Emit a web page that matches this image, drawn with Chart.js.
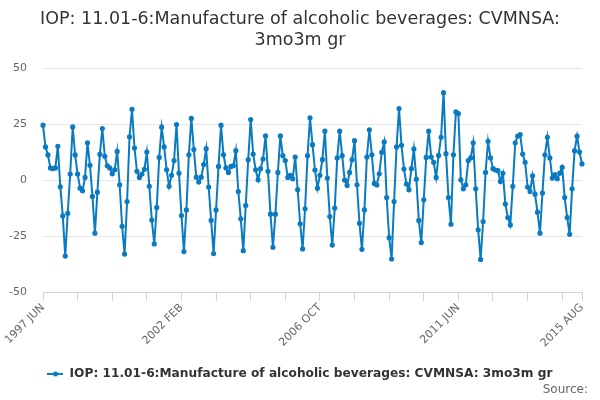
<!DOCTYPE html>
<html>
<head>
<meta charset="utf-8">
<script src="https://cdn.jsdelivr.net/npm/chart.js@4"></script>
<style>
  body { margin: 0; background: #fff; }
  #wrap { width: 600px; height: 400px; }
</style>
</head>
<body>
<div id="wrap"><canvas id="ioChart" width="600" height="400"></canvas></div>
<script>
// series start month and values (monthly, 3mo on 3m growth, %)
const startYear = 1997;
const startMonth = 5; // JUN
const monthNames = ['JAN', 'FEB', 'MAR', 'APR', 'MAY', 'JUN', 'JUL', 'AUG', 'SEP', 'OCT', 'NOV', 'DEC'];
const tickLabels = ['1997 JUN', '2002 FEB', '2006 OCT', '2011 JUN', '2015 AUG'];
const yTicks = [-50, -25, 0, 25, 50];

const growth = [
  24.5, 14.8, 11.2, 5.4, 5.1, 5.4, 15.1, -3, -16, -33.9,
  -14.8, 2.7, 23.7, 11.2, 2.7, -3.6, -4.8, 1.2, 16.6, 6.6,
  -7.3, -23.7, -5.4, 11.5, 23, 10.6, 6.4, 5.4, 2.8, 4.6,
  12.8, -2.1, -20.6, -33, -9.6, 19.3, 31.6, 14.3, 3.9, 1.2,
  2.7, 4.8, 12.5, -2.8, -17.8, -28.5, -12.2, 10.1, 23.6, 14.8,
  4.6, -2.8, 2.1, 8.7, 24.8, 3.1, -15.8, -31.9, -13.3, 11.3,
  27.5, 13.6, 1.3, -0.9, 1.3, 6.9, 14, -3.1, -18, -32.8,
  -13.3, 6.1, 24.5, 11.3, 5.4, 3.4, 6.1, 6.4, 13.1, -5.1,
  -17.3, -31.5, -11.3, 9.1, 27, 11.6, 4.6, 0.1, 5.1, 9.4,
  19.7, 3.9, -15.2, -30, -15.2, 3.4, 19.7, 10.9, 8.7, 1.2,
  2.1, 0.6, 10.3, -4.3, -19.5, -30.7, -12.8, 10.9, 27.8, 15.8,
  4.5, -3.6, 2.1, 9.1, 21.8, 0.9, -16.3, -29, -12.5, 9.9,
  21.8, 10.9, 0, -2.4, 3.4, 9.1, 17.6, -2.1, -19.3, -30.9,
  -13.3, 10.3, 22.4, 11.3, -1.5, -2.2, 2.8, 12.4, 17, -7.8,
  -25.7, -35.2, -9.6, 14.8, 31.9, 15.5, 4.9, -1.8, -4.3, 5.1,
  13.9, 0.4, -18, -27.9, -8.8, 10.1, 21.8, 10.3, 7.9, 1.2,
  11, 19.1, 39, 11.8, -7.8, -19.7, 11.3, 30.4, 29.7, 0.1,
  -3.9, -2.1, 8.7, 9.9, 16.6, -3.9, -22.2, -35.4, -18.5, 3.4,
  17.3, 9.9, 5.1, 4.5, 4.2, -0.6, 3, -10.7, -16.7, -20,
  -2.8, 16.6, 19.6, 20.3, 11.6, 7.9, -3.1, -5.1, 1.9, -6.3,
  -14.3, -23.7, -5.8, 11.3, 19.1, 9.9, 0.9, 2.4, 0.6, 3.1,
  5.7, -7.8, -16.7, -24.2, -3.9, 13.1, 19.6, 12.5, 7.2
];

const seriesName = 'IOP: 11.01-6:Manufacture of alcoholic beverages: CVMNSA: 3mo3m gr';
const lineColor = '#0a7bc1';

// month labels for the category axis
const months = [];
for (let i = 0; i < growth.length; i++) {
  const m = startMonth + i;
  months.push((startYear + Math.floor(m / 12)) + ' ' + monthNames[m % 12]);
}
const lastIdx = months.length - 1;

// legend symbol: short line with a dot
const legendIcon = document.createElement('canvas');
legendIcon.width = 16;
legendIcon.height = 6;
const ic = legendIcon.getContext('2d');
ic.strokeStyle = lineColor;
ic.lineWidth = 2;
ic.beginPath(); ic.moveTo(0, 3); ic.lineTo(16, 3); ic.stroke();
ic.fillStyle = lineColor;
ic.beginPath(); ic.arc(8, 3, 2.5, 0, Math.PI * 2); ic.fill();

// "Source:" footer text
const sourcePlugin = {
  id: 'sourceText',
  afterDraw(chart) {
    const c = chart.ctx;
    c.save();
    c.font = '12px "DejaVu Sans"';
    c.fillStyle = '#666666';
    c.textAlign = 'right';
    c.textBaseline = 'middle';
    c.fillText('Source:', 588, 390);
    c.restore();
  }
};

Chart.defaults.font.family = '"DejaVu Sans", sans-serif';

new Chart(document.getElementById('ioChart').getContext('2d'), {
  type: 'line',
  data: {
    labels: months,
    datasets: [{
      label: seriesName,
      data: growth,
      borderColor: lineColor,
      backgroundColor: lineColor,
      borderWidth: 2,
      pointRadius: 1.6,
      pointHoverRadius: 3,
      pointStyle: 'circle',
      tension: 0,
      fill: false
    }]
  },
  options: {
    responsive: false,
    animation: false,
    devicePixelRatio: 1,
    layout: { padding: { left: 9, right: 9, top: 0, bottom: 10 } },
    plugins: {
      title: {
        display: true,
        text: ['IOP: 11.01-6:Manufacture of alcoholic beverages: CVMNSA:', '3mo3m gr'],
        color: '#333333',
        font: { size: 17.5, weight: 'normal', lineHeight: 1.2 },
        padding: { top: 9, bottom: 17 }
      },
      legend: {
        position: 'bottom',
        labels: {
          color: '#333333',
          font: { size: 12.2, weight: 'bold' },
          usePointStyle: true,
          pointStyle: legendIcon,
          pointStyleWidth: 16,
          padding: 6
        }
      },
      tooltip: { enabled: false }
    },
    scales: {
      x: {
        type: 'category',
        offset: false,
        border: { display: true, color: '#ccd6eb' },
        grid: {
          drawOnChartArea: false,
          drawTicks: true,
          tickLength: 9,
          color: '#ccd6eb'
        },
        afterBuildTicks(scale) {
          scale.ticks = scale.ticks.filter(t => t.value % 14 === 0 || t.value === lastIdx);
        },
        afterFit(scale) {
          scale.paddingLeft = 0;
          scale.paddingRight = 18;
          scale.height += 12;
        },
        ticks: {
          autoSkip: false,
          minRotation: 45,
          maxRotation: 45,
          color: '#666666',
          font: { size: 11 },
          padding: 0,
          callback(value) {
            const lab = this.getLabelForValue(value);
            return tickLabels.includes(lab) ? lab : '';
          }
        }
      },
      y: {
        min: -50,
        max: 50,
        border: { display: false },
        grid: { color: '#e6e6e6', drawTicks: false },
        afterBuildTicks(scale) {
          scale.ticks = yTicks.map(v => ({ value: v }));
        },
        afterFit(scale) {
          scale.width = 34;
        },
        ticks: {
          color: '#666666',
          font: { size: 11 },
          padding: 16
        }
      }
    }
  },
  plugins: [sourcePlugin]
});
</script>
</body>
</html>
